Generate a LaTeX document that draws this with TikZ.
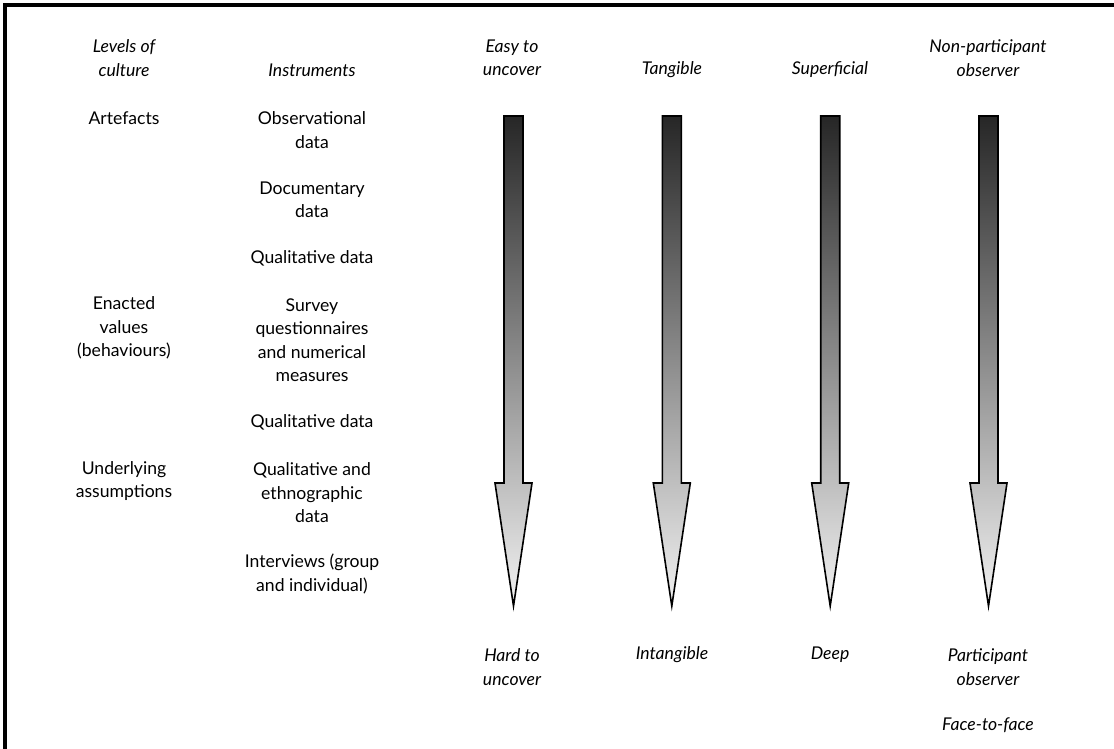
\documentclass[tikz,border=0pt]{standalone}
\usepackage{fontspec}
\setmainfont{Lato}
\begin{document}
\begin{tikzpicture}[x=0.75pt,y=-0.75pt,
  lbl/.style={align=center,inner sep=0pt,font=\fontsize{13.2}{17.6}\selectfont},
  ilbl/.style={lbl,font=\fontsize{13.2}{17.6}\selectfont\itshape},
  arr/.style={draw=black,line width=1.2pt,line join=miter,top color=black!85,bottom color=black!5}]
\useasboundingbox (0,0) rectangle (1114,749);
\draw[line width=2.4pt] (5,749) -- (5,5) -- (1114,5);
% headers
\node[ilbl] (hlev) at (124,58) {Levels of\\culture};
\node[ilbl] (hins) at (312,70) {Instruments};
\node[ilbl] (heasy) at (512,58) {Easy to\\uncover};
\node[ilbl] (htan) at (672,70) {Tangible};
\node[ilbl] (hsup) at (830,70) {Superficial};
\node[ilbl] (hnon) at (988,58) {Non-participant\\observer};
% levels
\node[lbl] (art) at (124,118) {Artefacts};
\node[lbl] (enact) at (124,328) {Enacted\\values\\(behaviours)};
\node[lbl] (under) at (124,481) {Underlying\\assumptions};
% instruments
\node[lbl] (obs) at (312,130) {Observational\\data};
\node[lbl] (doc) at (312,200) {Documentary\\data};
\node[lbl] (qual1) at (312,258) {Qualitative data};
\node[lbl] (surv) at (312,340) {Survey\\questionnaires\\and numerical\\measures};
\node[lbl] (qual2) at (312,422) {Qualitative data};
\node[lbl] (qeth) at (312,493) {Qualitative and\\ethnographic\\data};
\node[lbl] (intv) at (312,574) {Interviews (group\\and individual)};
% bottoms
\node[ilbl] (hard) at (512,667) {Hard to\\uncover};
\node[ilbl] (intan) at (672,655) {Intangible};
\node[ilbl] (deep) at (830,655) {Deep};
\node[ilbl] (part) at (988,667) {Participant\\observer};
\node[ilbl] (face) at (988,725) {Face-to-face};
% arrows
\foreach \c in {513.5,671.8,830.2,988.5}{
  \path[arr] (\c-9.5,116) -- (\c+9.5,116) -- (\c+9.5,483) -- (\c+18.5,483)
     -- (\c,606) -- (\c-18.5,483) -- (\c-9.5,483) -- cycle;
}
\end{tikzpicture}
\end{document}
